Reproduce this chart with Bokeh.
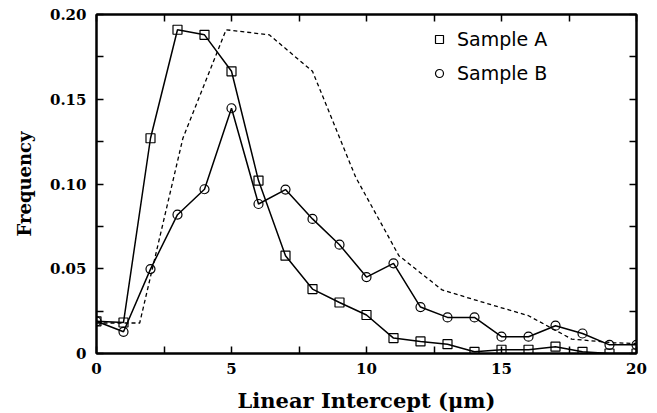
from bokeh.plotting import figure
from bokeh.models import (LinearAxis, FixedTicker, Range1d, Legend, LegendItem,
                          PrintfTickFormatter)
from bokeh.embed import file_html
from bokeh.resources import INLINE

# Linear intercept distributions (frequency per 1 um class)
intercept = list(range(0, 21))
sample_a = [0.019, 0.0183, 0.127, 0.191, 0.188, 0.1665, 0.102, 0.0577, 0.038,
            0.0301, 0.0227, 0.0091, 0.0071, 0.0055, 0.001, 0.0022, 0.0022,
            0.004, 0.001, 0.0, 0.0]
sample_b = [0.019, 0.0128, 0.0498, 0.0819, 0.0969, 0.1447, 0.0882, 0.0967,
            0.0794, 0.0642, 0.0451, 0.0532, 0.0274, 0.0213, 0.0213, 0.0099,
            0.0099, 0.0164, 0.0118, 0.0051, 0.0051]

# Reference distribution (dashed), sampled every 1.6 um
ref_x = [0.0, 1.6, 3.2, 4.8, 6.4, 8.0, 9.6, 11.2, 12.8, 14.4, 16.0, 17.6, 19.2, 20.0]
ref_y = [0.018, 0.018, 0.127, 0.191, 0.188, 0.1665, 0.104, 0.0577, 0.0375,
         0.0298, 0.0223, 0.0085, 0.0063, 0.0059]

x_major = [0, 5, 10, 15, 20]
x_minor = [2.5, 7.5, 12.5, 17.5]
y_major = [0, 0.05, 0.1, 0.15, 0.2]
y_minor = [0.025, 0.075, 0.125, 0.175]

TICK_FONT = "DejaVu Serif"

p = figure(frame_width=540, frame_height=339,
           x_range=Range1d(0, 20), y_range=Range1d(0, 0.2),
           output_backend="svg", toolbar_location=None,
           x_axis_location=None, y_axis_location=None,
           min_border_left=96, min_border_right=20,
           min_border_top=14, min_border_bottom=60)
p.grid.visible = False
p.outline_line_color = "black"
p.outline_line_width = 2
p.background_fill_color = "white"
p.border_fill_color = "white"


def styled_axis(ticks, minor, labelled):
    ax = LinearAxis(ticker=FixedTicker(ticks=ticks, minor_ticks=minor))
    ax.axis_line_width = 2
    ax.major_tick_in = 7
    ax.major_tick_out = 0
    ax.minor_tick_in = 7
    ax.minor_tick_out = 0
    ax.major_tick_line_width = 1.5
    ax.minor_tick_line_width = 1.5
    ax.major_label_text_font = TICK_FONT
    ax.major_label_text_font_style = "bold"
    ax.major_label_text_font_size = "15px"
    ax.major_label_text_color = "black"
    if not labelled:
        # mirrored frame axis: ticks only
        ax.major_label_overrides = {t: "" for t in ticks}
        ax.major_label_standoff = 0
    return ax


xb = styled_axis(x_major, x_minor, True)
xb.major_label_standoff = 9
xb.axis_label = "Linear Intercept (\u03bcm)"
xb.axis_label_text_font = TICK_FONT
xb.axis_label_text_font_style = "bold"
xb.axis_label_text_font_size = "21px"
xb.axis_label_text_color = "black"
xb.axis_label_standoff = 11
p.add_layout(xb, "below")

yl = styled_axis(y_major, y_minor, True)
yl.formatter = PrintfTickFormatter(format="%.2f")
yl.major_label_overrides = {0: "0"}
yl.major_label_standoff = 10
yl.axis_label = "Frequency"
yl.axis_label_text_font = TICK_FONT
yl.axis_label_text_font_style = "bold"
yl.axis_label_text_font_size = "18px"
yl.axis_label_text_color = "black"
yl.axis_label_standoff = 12
p.add_layout(yl, "left")

p.add_layout(styled_axis(x_major, x_minor, False), "above")
p.add_layout(styled_axis(y_major, y_minor, False), "right")

# Dashed reference curve
p.line(ref_x, ref_y, line_color="black", line_width=1.3, line_dash="4 3")

# Sample series: solid lines with open markers
p.line(intercept, sample_a, line_color="black", line_width=1.5)
sq = p.scatter(intercept, sample_a, marker="square", size=9,
               line_color="black", line_width=1.2, fill_alpha=0)
p.line(intercept, sample_b, line_color="black", line_width=1.5)
ci = p.scatter(intercept, sample_b, marker="circle", size=9,
               line_color="black", line_width=1.2, fill_alpha=0)

legend = Legend(items=[LegendItem(label="Sample A", renderers=[sq]),
                       LegendItem(label="Sample B", renderers=[ci])],
                location=(333, 269), orientation="vertical")
legend.glyph_width = 20
legend.glyph_height = 20
legend.label_height = 20
legend.spacing = 12
legend.padding = 0
legend.margin = 0
legend.label_standoff = 8
legend.border_line_color = None
legend.background_fill_alpha = 0
legend.label_text_font = "DejaVu Sans"
legend.label_text_font_size = "19px"
legend.label_text_color = "black"
p.add_layout(legend)

open("out.html", "w").write(file_html(p, INLINE))
